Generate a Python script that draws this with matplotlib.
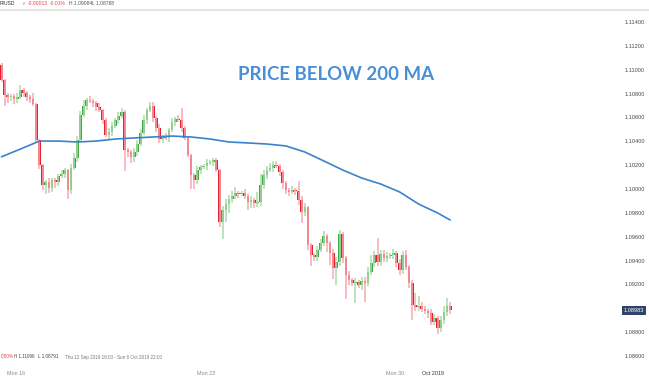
import numpy as np
import matplotlib.pyplot as plt

# EUR/USD 2h candles
first_open = 1.11040
closes = [
    1.10914, 1.10788, 1.10771, 1.10780, 1.10754, 1.10771, 1.10830, 1.10805, 1.10771, 1.10754,
    1.10713, 1.10411, 1.10201, 1.10034, 1.10059, 1.10009, 1.10076, 1.10059, 1.10109, 1.10126,
    1.10159, 1.09992, 1.10176, 1.10260, 1.10411, 1.10620, 1.10696, 1.10746, 1.10738, 1.10721,
    1.10687, 1.10662, 1.10578, 1.10453, 1.10478, 1.10528, 1.10578, 1.10612, 1.10645, 1.10327,
    1.10310, 1.10268, 1.10310, 1.10377, 1.10470, 1.10578, 1.10662, 1.10696, 1.10595, 1.10511,
    1.10419, 1.10436, 1.10428, 1.10495, 1.10562, 1.10587, 1.10578, 1.10511, 1.10428, 1.10285,
    1.10118, 1.10076, 1.10159, 1.10185, 1.10193, 1.10218, 1.10226, 1.10243, 1.10159, 1.09724,
    1.09824, 1.09875, 1.09916, 1.09942, 1.09967, 1.09958, 1.09967, 1.09942, 1.09891, 1.09908,
    1.09883, 1.09891, 1.10034, 1.10118, 1.10159, 1.10176, 1.10201, 1.10193, 1.10143, 1.10051,
    1.09992, 1.09975, 1.09992, 1.09983, 1.09908, 1.09807, 1.09849, 1.09531, 1.09447, 1.09430,
    1.09489, 1.09548, 1.09606, 1.09548, 1.09464, 1.09338, 1.09388, 1.09623, 1.09422, 1.09280,
    1.09238, 1.09213, 1.09221, 1.09196, 1.09229, 1.09213, 1.09305, 1.09380, 1.09447, 1.09388,
    1.09456, 1.09422, 1.09439, 1.09447, 1.09464, 1.09380, 1.09321, 1.09447, 1.09347, 1.09213,
    1.09028, 1.09011, 1.09020, 1.08995, 1.08978, 1.08961, 1.08886, 1.08919, 1.08835, 1.08902,
    1.08969, 1.09020, 1.08983,
]
# wick lengths beyond the body, in pips
wick_up = [
    2, 1, 2, 2, 2, 3, 4, 2, 2, 2, 5, 1, 1, 1, 2, 3, 2, 2, 2, 3,
    2, 1, 3, 4, 3, 3, 5, 2, 3, 2, 2, 3, 1, 2, 3, 3, 2, 3, 3, 2,
    2, 2, 3, 3, 3, 4, 2, 3, 3, 2, 3, 2, 3, 2, 3, 2, 3, 10, 2, 2,
    1, 2, 3, 2, 2, 3, 2, 2, 2, 1, 3, 4, 3, 4, 5, 2, 2, 3, 2, 3,
    2, 8, 9, 4, 3, 4, 3, 3, 2, 2, 2, 2, 3, 2, 8, 3, 3, 1, 2, 2,
    3, 3, 4, 2, 2, 3, 4, 3, 2, 2, 3, 2, 3, 2, 3, 3, 4, 7, 3, 14,
    3, 3, 3, 2, 3, 2, 3, 3, 4, 2, 2, 10, 8, 3, 2, 2, 3, 3, 2, 3,
    5, 7, 3,
]
wick_dn = [
    2, 9, 5, 3, 4, 3, 2, 3, 3, 3, 2, 2, 3, 4, 8, 4, 3, 5, 3, 2,
    3, 8, 3, 2, 3, 2, 2, 3, 2, 3, 3, 2, 3, 2, 3, 3, 2, 3, 2, 18,
    4, 5, 4, 3, 2, 2, 3, 2, 3, 3, 3, 3, 2, 3, 2, 3, 2, 3, 2, 2,
    12, 8, 3, 3, 2, 3, 2, 3, 2, 4, 14, 10, 8, 3, 3, 3, 2, 3, 7, 5,
    4, 3, 3, 3, 3, 2, 3, 2, 3, 5, 3, 3, 2, 3, 4, 9, 3, 4, 9, 3,
    3, 2, 3, 8, 10, 9, 14, 3, 4, 20, 4, 3, 17, 3, 4, 16, 3, 3, 3, 3,
    3, 3, 3, 3, 3, 3, 4, 3, 3, 4, 13, 3, 3, 3, 3, 4, 3, 3, 5, 3,
    3, 3, 3,
]
# 200-period moving average at every 6th candle
ma_idx = [0, 6, 12, 18, 24, 30, 36, 42, 48, 54, 60, 66, 72, 78, 84, 90, 96, 102, 108, 114,
          120, 126, 132, 138, 142]
ma_vals = [1.10270, 1.10335, 1.10402, 1.10402, 1.10394, 1.10402, 1.10419, 1.10428, 1.10436,
           1.10444, 1.10436, 1.10419, 1.10394, 1.10386, 1.10377, 1.10361, 1.10310, 1.10235,
           1.10159, 1.10092, 1.10042, 1.09975, 1.09874, 1.09799, 1.09740]

ytick_vals = [1.086, 1.088, 1.092, 1.094, 1.096, 1.098, 1.100, 1.102, 1.104, 1.106, 1.108,
              1.110, 1.112, 1.114]
ytick_labels = ['1.08600', '1.08800', '1.09200', '1.09400', '1.09600', '1.09800', '1.10000',
                '1.10200', '1.10400', '1.10600', '1.10800', '1.11000', '1.11200', '1.11400']
date_pos = [4.6, 64.6, 124.6, 136.6]
date_labels = ['Mon 16', 'Mon 23', 'Mon 30', 'Oct 2019']
last_price = 1.08983

W, H = 649, 376
FAM = ['Liberation Sans', 'DejaVu Sans']
fig = plt.figure(figsize=(W / 100, H / 100), dpi=100)
ax = fig.add_axes([0, 10 / H, 620 / W, 366 / H])

closes = np.array(closes)
opens = np.r_[first_open, closes[:-1]]
x = np.arange(len(closes))
top = np.maximum(opens, closes)
bot = np.minimum(opens, closes)
highs = top + np.array(wick_up) * 1e-4
lows = bot - np.array(wick_dn) * 1e-4
body = np.maximum(top - bot, 0.00003)
up = closes >= opens

ax.vlines(x[up], lows[up], highs[up], color='#a9dca9', lw=1.1)
ax.vlines(x[~up], lows[~up], highs[~up], color='#f6aab0', lw=1.1)
ax.bar(x[up], body[up], bottom=bot[up], width=0.85, color='#43a843', linewidth=0)
ax.bar(x[~up], body[~up], bottom=bot[~up], width=0.85, color='#e8202e', linewidth=0)

ax.plot(ma_idx, ma_vals, color='#3b82cc', lw=1.2, solid_capstyle='round')

ax.set_xlim(-0.475, 195.73)
ax.set_ylim(1.085162, 1.115844)
for s in ax.spines.values():
    s.set_visible(False)

ax.yaxis.tick_right()
ax.set_yticks(ytick_vals)
ax.set_yticklabels(ytick_labels, family=FAM)
ax.tick_params(axis='y', length=0, pad=3.5, labelsize=4.1, colors='#4a4a4a')
ax.set_xticks(date_pos)
ax.set_xticklabels(date_labels, family=FAM)
ax.tick_params(axis='x', length=0, pad=3.5, labelsize=3.9, colors='#8a8a8a')
ax.get_xticklabels()[-1].set_color('#333333')

ax.text(1 + 4 / 620, last_price, '1.08983', transform=ax.get_yaxis_transform(),
        fontsize=4.1, family=FAM, color='white', va='center', ha='left',
        bbox=dict(boxstyle='square,pad=0.35', fc='#2f4468', ec='none'))

fig.text(336.5 / W, 1 - 75 / H, 'PRICE BELOW 200 MA', ha='center', va='center',
         fontsize=13.4, fontweight='bold', family='Lato', color='#4a8fd6')

# header strip
fig.add_artist(plt.Line2D([0, 1], [1 - 9.5 / H] * 2, transform=fig.transFigure,
                          color='#e4e4e4', lw=1.5))
hy = 1 - 3.5 / H
hdr = [(0, 'R/USD', '#333333'), (21, '\u2228', '#999999'), (28, '-0.00013', '#e8414f'),
       (50, '-0.01%', '#e8414f'), (69, 'H 1.09084', '#555555'), (92, 'L 1.08788', '#555555')]
for px, txt, col in hdr:
    fig.text(px / W, hy, txt, fontsize=3.6, family=FAM, color=col, va='center', ha='left')

# range info line at the bottom left
by = 1 - 357 / H
info = [(0.5, '0.50%', '#e8414f'), (14, 'H 1.11096', '#444444'),
        (38, 'L 1.08791', '#444444'),
        (65, 'Thu 12 Sep 2019 18:00 - Sun 6 Oct 2019 22:00', '#777777')]
for px, txt, col in info:
    fig.text(px / W, by, txt, fontsize=3.3, family=FAM, color=col, va='center', ha='left')

fig.savefig('out.png', dpi=100)
